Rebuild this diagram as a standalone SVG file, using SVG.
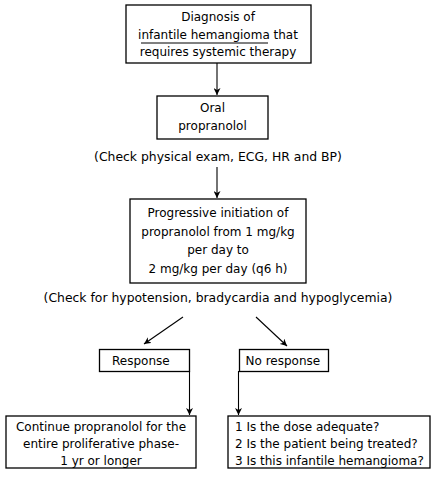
<svg xmlns="http://www.w3.org/2000/svg" width="438" height="483" viewBox="0 0 438 483">
<defs>
<style>
.box{fill:#fff;stroke:#000;stroke-width:1.3}
.t{font-family:"DejaVu Sans",Verdana,sans-serif;font-size:12px;fill:#000}
.c{text-anchor:middle}
.ln{stroke:#000;stroke-width:1.1;fill:none}
</style>
<marker id="ah" viewBox="0 0 10 10" refX="10" refY="5" markerWidth="7" markerHeight="7" orient="auto" markerUnits="userSpaceOnUse">
<path d="M0,0 L10,5 L0,10 L3,5 Z" fill="#000"/>
</marker>
</defs>
<rect width="438" height="483" fill="#fff"/>
<g id="connectors">
<line class="ln" x1="217" y1="63" x2="217" y2="95" marker-end="url(#ah)"/>
<line class="ln" x1="217" y1="167" x2="217" y2="198" marker-end="url(#ah)"/>
<line class="ln" x1="183" y1="317" x2="144" y2="344" marker-end="url(#ah)"/>
<line class="ln" x1="256" y1="317" x2="287" y2="346" marker-end="url(#ah)"/>
<line class="ln" x1="189.5" y1="371" x2="189.5" y2="415" marker-end="url(#ah)"/>
<line class="ln" x1="238.5" y1="371" x2="238.5" y2="415" marker-end="url(#ah)"/>
</g>
<g id="diagnosis">
<rect class="box" x="126" y="5" width="185" height="58"/>
<text class="t c" x="218" y="21">Diagnosis of</text>
<text class="t c" x="218" y="38.5">infantile hemangioma that</text>
<line x1="141" y1="43" x2="268" y2="43" stroke="#000" stroke-width="1"/>
<text class="t c" x="218" y="56">requires systemic therapy</text>
</g>
<g id="oral">
<rect class="box" x="157" y="96" width="111" height="43"/>
<text class="t c" x="212.5" y="112">Oral</text>
<text class="t c" x="212.5" y="130">propranolol</text>
</g>
<g id="check1">
<text class="t c" x="218" y="161" style="font-size:12.4px">(Check physical exam, ECG, HR and BP)</text>
</g>
<g id="initiation">
<rect class="box" x="130" y="199" width="176" height="84"/>
<text class="t c" x="218" y="217">Progressive initiation of</text>
<text class="t c" x="218" y="236">propranolol from 1 mg/kg</text>
<text class="t c" x="218" y="254">per day to</text>
<text class="t c" x="218" y="273">2 mg/kg per day (q6 h)</text>
</g>
<g id="check2">
<text class="t c" x="218" y="302" style="font-size:12.4px">(Check for hypotension, bradycardia and hypoglycemia)</text>
</g>
<g id="response">
<rect class="box" x="99.5" y="349.5" width="90" height="22"/>
<text class="t" x="112" y="365">Response</text>
</g>
<g id="noresponse">
<rect class="box" x="239.5" y="349.5" width="89" height="22"/>
<text class="t" x="245.5" y="365">No response</text>
</g>
<g id="continue">
<rect class="box" x="6" y="416" width="190" height="52"/>
<text class="t c" x="101" y="431">Continue propranolol for the</text>
<text class="t c" x="101" y="448">entire proliferative phase-</text>
<text class="t c" x="101" y="465">1 yr or longer</text>
</g>
<g id="questions">
<rect class="box" x="228" y="416" width="202" height="52"/>
<text class="t" x="235" y="431">1 Is the dose adequate?</text>
<text class="t" x="235" y="448">2 Is the patient being treated?</text>
<text class="t" x="235" y="465">3 Is this infantile hemangioma?</text>
</g>
</svg>
